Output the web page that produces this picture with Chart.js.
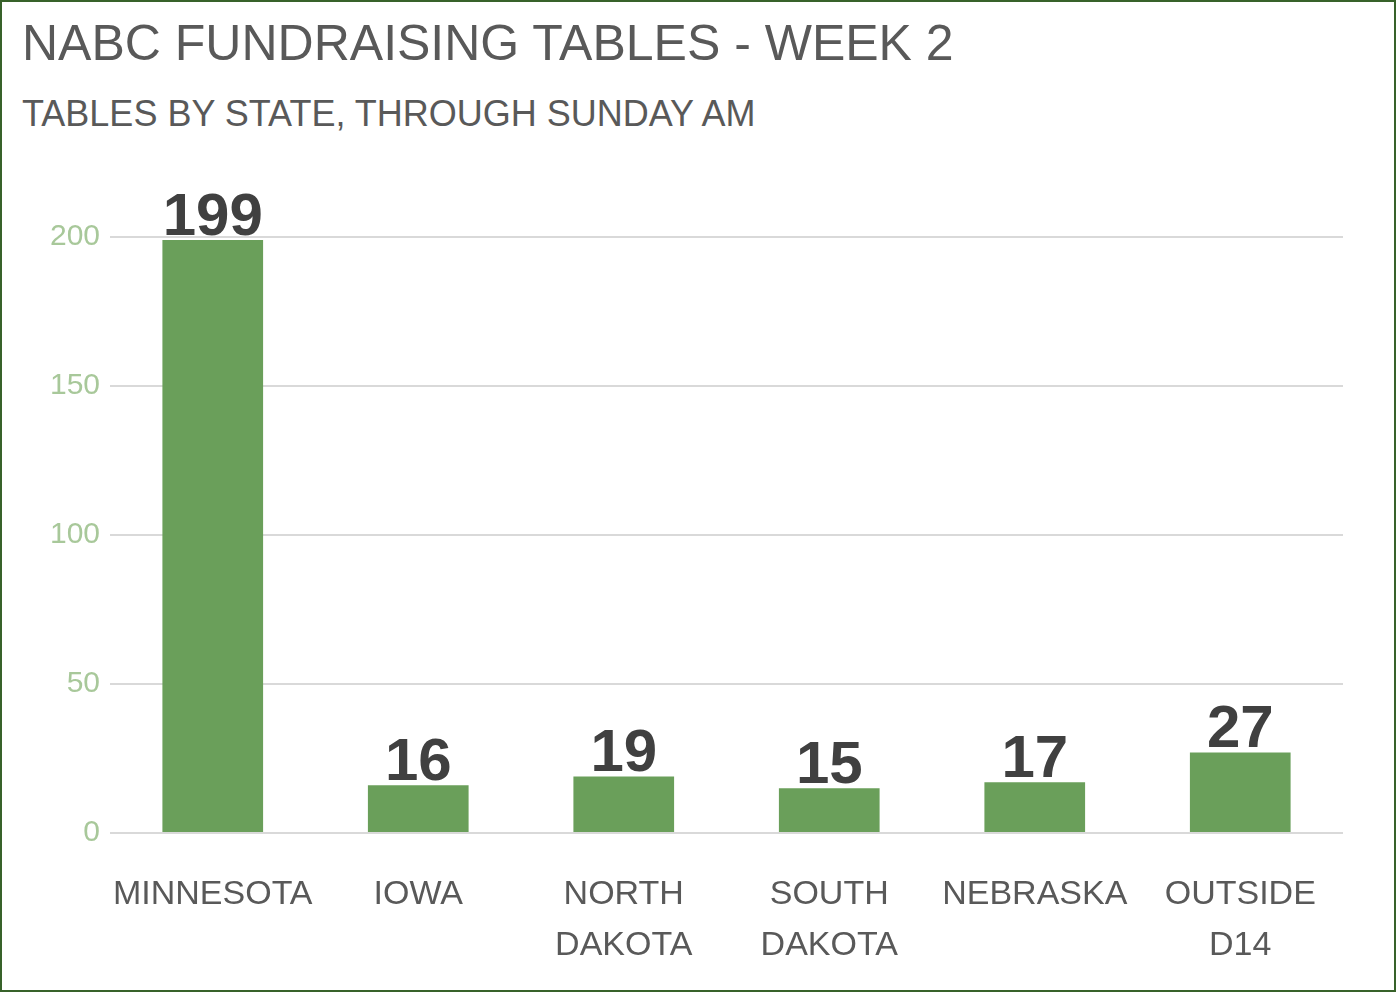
<!DOCTYPE html>
<html>
<head>
<meta charset="utf-8">
<script src="https://cdn.jsdelivr.net/npm/chart.js@4/dist/chart.umd.min.js"></script>
<style>
  body { margin: 0; background: #fff; }
  #frame { position: absolute; left: 0; top: 0; width: 1392px; height: 988px; border: 2px solid #38622a; }
  h1 { position: absolute; left: 22px; top: 14px; margin: 0; font: 50px "Liberation Sans", Arial, sans-serif; color: #595959; }
  h2 { position: absolute; left: 22px; top: 93px; margin: 0; font: normal 36px "Liberation Sans", Arial, sans-serif; color: #595959; }
  #wrap { position: absolute; left: 0; top: 150px; width: 1396px; height: 842px; }
</style>
</head>
<body>
<div id="frame"></div>
<h1>NABC FUNDRAISING TABLES - WEEK 2</h1>
<h2>TABLES BY STATE, THROUGH SUNDAY AM</h2>
<div id="wrap"><canvas id="c"></canvas></div>
<script>
const states = [['MINNESOTA'], ['IOWA'], ['NORTH', 'DAKOTA'], ['SOUTH', 'DAKOTA'], ['NEBRASKA'], ['OUTSIDE', 'D14']];
const tables = [199, 16, 19, 15, 17, 27];

// draws the big value above each bar
const valueLabels = {
    id: 'valueLabels',
    afterDatasetsDraw(chart) {
        const ctx = chart.ctx;
        ctx.save();
        ctx.font = 'bold 60px "Liberation Sans", Arial, sans-serif';
        ctx.fillStyle = '#404040';
        ctx.textAlign = 'center';
        ctx.textBaseline = 'bottom';
        chart.getDatasetMeta(0).data.forEach((bar, i) => {
            ctx.fillText(tables[i], bar.x, bar.y + 8);
        });
        ctx.restore();
    }
};

new Chart(document.getElementById('c'), {
    type: 'bar',
    data: {
        labels: states,
        datasets: [{
            data: tables,
            backgroundColor: '#6a9f5a',
            barPercentage: 0.49,
            categoryPercentage: 1
        }]
    },
    options: {
        responsive: true,
        maintainAspectRatio: false,
        animation: false,
        layout: { padding: { top: 87, left: 10, right: 53, bottom: 9 } },
        plugins: { legend: { display: false }, tooltip: { enabled: false } },
        scales: {
            y: {
                min: 0, max: 200,
                ticks: { stepSize: 50, color: '#a8c89a', font: { size: 30, family: '"Liberation Sans", Arial' }, padding: 10 },
                grid: { color: '#d9d9d9', lineWidth: 2, drawTicks: false },
                border: { display: false },
                afterFit(s) { s.width = 100; }
            },
            x: {
                ticks: { color: '#595959', font: { size: 34, family: '"Liberation Sans", Arial', lineHeight: 1.5 }, padding: 28, maxRotation: 0 },
                grid: { display: false },
                border: { display: false },
                afterFit(s) { s.height = 150; }
            }
        }
    },
    plugins: [valueLabels]
});
</script>
</body>
</html>
